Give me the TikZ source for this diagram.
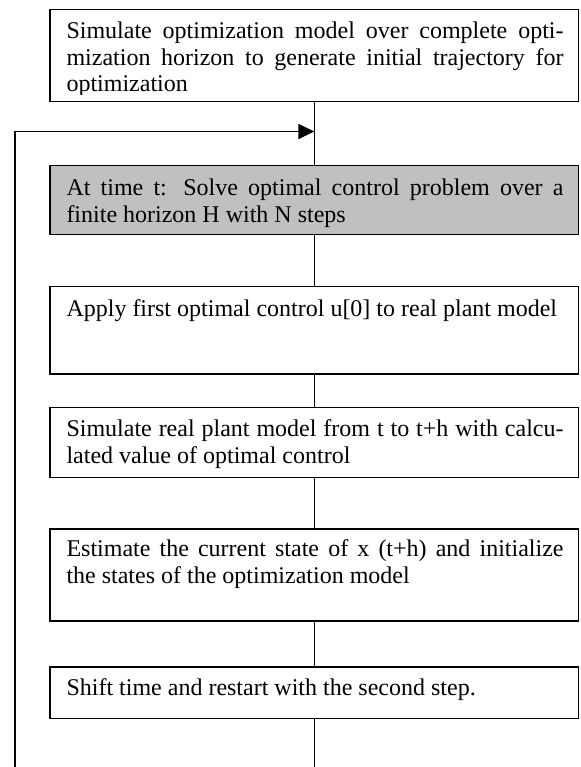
\documentclass[tikz,border=0pt]{standalone}
\usepackage{fontspec}
\setmainfont{Liberation Serif}
\usetikzlibrary{arrows.meta}
\definecolor{boxgray}{RGB}{192,192,192}
\newcommand{\topstrut}{\fontsize{24}{26.7}\selectfont\baselineskip=26.7pt\relax\rule{0pt}{18pt}}
\newcommand{\topstrutA}{\fontsize{24}{26.9}\selectfont\baselineskip=26.9pt\relax\rule{0pt}{18pt}}
\begin{document}
\begin{tikzpicture}[x=1pt,y=-1pt,
  stepbox/.style={draw=black, line width=1.5pt, anchor=north west, inner sep=0pt, outer sep=0pt, minimum width=528.7pt},
  graybox/.style={stepbox, fill=boxgray},
  txt/.style={anchor=north west, inner sep=0pt, outer sep=0pt, text width=497pt, align=justify,
    font=\fontsize{24}{26.7}\selectfont},
  conn/.style={draw=black, line width=1.4pt}
]
\useasboundingbox (0,0) rectangle (580,767);

% boxes
\node[stepbox, minimum height=92.2pt] (b1) at (50,9.5) {};
\node[graybox, minimum height=69.2pt] (b2) at (50,165.5) {};
\node[stepbox, minimum height=87.5pt] (b3) at (50,286.5) {};
\node[stepbox, minimum height=69.6pt] (b4) at (50,407.7) {};
\node[stepbox, minimum height=92pt] (b5) at (50,529) {};
\node[stepbox, minimum height=51.7pt] (b6) at (50,667) {};

% texts
\begin{scope}
\clip (50,9.5) rectangle (578.7,95);
\node[txt] (t1) at (66.5,20.5) {\topstrutA Simulate optimization model over complete opti-\linebreak mization horizon to generate initial trajectory for\linebreak optimization};
\end{scope}
\node[txt] (t2) at (66.5,178) {\topstrut At time t: Solve optimal control problem over a\linebreak finite horizon H with N steps};
\node[txt] (t3) at (66.5,298.5) {\topstrut Apply first optimal control u[0] to real plant model};
\node[txt] (t4) at (66.5,418.6) {\topstrut Simulate real plant model from t to t+h with calcu-\linebreak lated value of optimal control};
\node[txt] (t5) at (66.5,538.7) {\topstrut Estimate the current state of x (t+h) and initialize\linebreak the states of the optimization model};
\node[txt] (t6) at (66.5,677.5) {\topstrut Shift time and restart with the second step.};

% connector coordinates
\coordinate (loopy) at (15,131.5);
\coordinate (join) at (b1.south |- loopy);
\coordinate (loopbot) at (15,767);
\coordinate (endc) at (b6.south |- loopbot);

% connectors
\draw[conn] (b1.south) -- (b2.north);
\draw[conn] (b2.south) -- (b3.north);
\draw[conn] (b3.south) -- (b4.north);
\draw[conn] (b4.south) -- (b5.north);
\draw[conn] (b5.south) -- (b6.north);
\draw[conn] (b6.south) -- (endc);
\draw[conn, -{Triangle[length=16pt,width=15pt]}] (loopbot) -- (loopy) -- (join);
\end{tikzpicture}
\end{document}
